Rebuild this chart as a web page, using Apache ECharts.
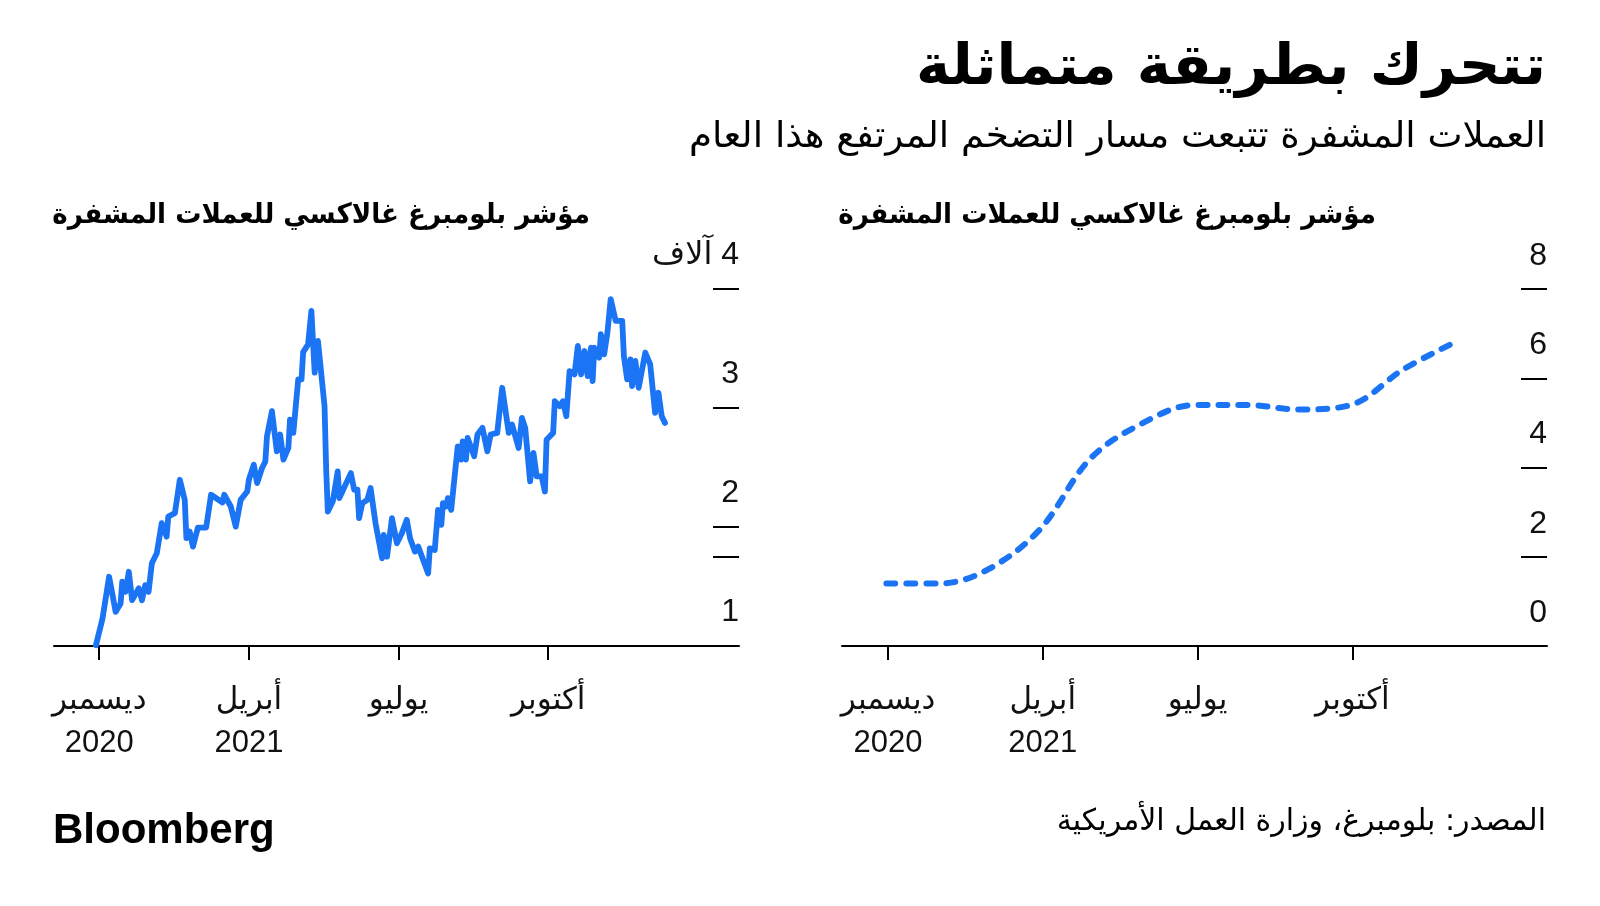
<!DOCTYPE html>
<html lang="ar">
<head>
<meta charset="utf-8">
<script src="https://cdn.jsdelivr.net/npm/echarts@6/dist/echarts.min.js"></script>
<style>
html,body{margin:0;padding:0;background:#fff;}
#chart{width:1600px;height:906px;}
</style>
</head>
<body>
<div id="chart" dir="rtl"></div>
<script>
// ---------- texts ----------
const titleText = 'تتحرك بطريقة متماثلة';
const subtitleText = 'العملات المشفرة تتبعت مسار التضخم المرتفع هذا العام';
const panelTitleLeft = 'مؤشر بلومبرغ غالاكسي للعملات المشفرة';
const panelTitleRight = 'مؤشر بلومبرغ غالاكسي للعملات المشفرة';
const sourceText = 'المصدر: بلومبرغ، وزارة العمل الأمريكية';
const logoText = 'Bloomberg';

// ---------- x axis (days since 1 Jan 2021) ----------
const xTickDays = [0, 91, 182, 273];
const xTickLabels = ['ديسمبر\n2020', 'أبريل\n2021', 'يوليو', 'أكتوبر'];

// ---------- Bloomberg Galaxy Crypto Index ----------
const galaxyDay = [
  -2, 2, 6, 10, 13, 14, 16, 18, 20, 24,
  26, 28, 30, 32, 35, 38, 41, 42, 46, 49,
  52, 53, 55, 57, 60, 65, 68, 75, 76, 80,
  83, 86, 90, 91, 94, 96, 99, 101, 102, 105,
  108, 110, 112, 115, 116, 118, 121, 123, 124, 127,
  129, 131, 133, 134, 137, 138, 139, 142, 145, 146,
  153, 155, 157, 158, 160, 163, 165, 168, 172, 173,
  175, 178, 181, 184, 187, 189, 192, 194, 200, 201,
  204, 206, 208, 209, 211, 212, 214, 218, 220, 221,
  223, 224, 228, 230, 233, 236, 238, 242, 245, 249,
  251, 255, 257, 259, 262, 264, 266, 269, 271, 272,
  276, 277, 280, 282, 284, 286, 289, 291, 293, 295,
  297, 299, 300, 301, 304, 305, 307, 309, 311, 314,
  318, 319, 321, 323, 324, 326, 328, 332, 335, 338,
  340, 342, 344
];
const galaxyValue = [
  1006, 1231, 1582, 1287, 1357, 1540, 1455, 1624, 1385, 1484,
  1385, 1512, 1455, 1695, 1779, 2032, 1919, 2088, 2116, 2397,
  2228, 1906, 1961, 1835, 1995, 1995, 2271, 2206, 2271, 2172,
  2003, 2228, 2298, 2397, 2524, 2369, 2496, 2551, 2762, 2973,
  2636, 2777, 2566, 2664, 2903, 2791, 3240, 3240, 3470, 3535,
  3816, 3297, 3563, 3563, 3015, 2481, 2130, 2214, 2467, 2243,
  2453, 2313, 2313, 2074, 2200, 2228, 2327, 2032, 1737, 1933,
  1750, 2074, 1863, 1948, 2060, 1906, 1793, 1835, 1610, 1821,
  1807, 2144, 2018, 2200, 2172, 2243, 2144, 2678, 2566, 2720,
  2566, 2749, 2594, 2777, 2833, 2636, 2777, 2791, 3170, 2791,
  2861, 2664, 2917, 2833, 2383, 2622, 2425, 2425, 2298, 2734,
  2791, 3057, 3015, 3057, 2931, 3310, 3282, 3521, 3282, 3479,
  3268, 3507, 3226, 3507, 3423, 3620, 3451, 3634, 3915, 3732,
  3732, 3437, 3240, 3409, 3184, 3395, 3170, 3465, 3367, 2959,
  3128, 2931, 2875
];
const galaxyTickValues = [1000, 1750, 2000, 3000, 4000];
const galaxyLabelValues = [1000, 2000, 3000, 4000];
const galaxyLabelText = {1000: '1', 2000: '2', 3000: '3', 4000: '4 آلاف'};

// ---------- US CPI, YoY % ----------
const cpiDates = ['2020-12-31', '2021-01-31', '2021-02-28', '2021-03-31', '2021-04-30', '2021-05-31',
                  '2021-06-30', '2021-07-31', '2021-08-31', '2021-09-30', '2021-10-31', '2021-11-30'];
const cpiValue = [1.4, 1.4, 1.7, 2.6, 4.2, 5.0, 5.4, 5.4, 5.3, 5.4, 6.2, 6.8];
const cpiTicks = [0, 2, 4, 6, 8];

// ---------- build ----------
const DAY0 = Date.UTC(2021, 0, 1);
function dayOf(s) { const p = s.split('-').map(Number); return (Date.UTC(p[0], p[1] - 1, p[2]) - DAY0) / 86400000; }

const BLUE = '#1b74f4';
const INK = '#111111';
const NUM_FONT = "'Liberation Sans', 'DejaVu Sans', sans-serif";
const AR = "'DejaVu Sans Condensed', 'DejaVu Sans', sans-serif";

function xAx(grid, min, max) {
  return {
    type: 'value', gridIndex: grid, min: min, max: max,
    splitLine: {show: false},
    axisLine: {show: true, onZero: false, lineStyle: {color: '#000', width: 2}},
    axisTick: {show: true, inside: false, length: 14, lineStyle: {color: '#000', width: 2}, customValues: xTickDays},
    axisLabel: {
      show: true, customValues: xTickDays, margin: 33, color: INK,
      fontFamily: NUM_FONT, fontSize: 31, lineHeight: 43, align: 'center', verticalAlign: 'top',
      formatter: function (v) { const i = xTickDays.indexOf(Math.round(v)); return i >= 0 ? xTickLabels[i] : ''; }
    }
  };
}
// lift = distance of label centre above its tick
function yAx(grid, min, max, ticks, labels, fmt, lift) {
  return {
    type: 'value', gridIndex: grid, position: 'right', offset: 0, min: min, max: max,
    splitLine: {show: false},
    axisLine: {show: false, onZero: false},
    axisTick: {show: true, inside: true, length: 26, lineStyle: {color: '#000', width: 2}, customValues: ticks},
    axisLabel: {
      show: true, inside: true, margin: 0, customValues: labels, color: INK,
      fontFamily: NUM_FONT, fontSize: 32, align: 'right', verticalAlign: 'bottom',
      lineHeight: lift * 2,
      formatter: fmt
    }
  };
}
const galaxyFmt = function (v) { return galaxyLabelText[Math.round(v)] || ''; };
const cpiFmt = function (v) { return String(Math.round(v)); };

function txt(text, x, y, align, font, scaleX) {
  return {
    type: 'text', x: x, y: y, scaleX: scaleX, scaleY: 1, silent: true,
    style: {text: text, x: 0, y: 0, align: align, verticalAlign: 'middle', font: font, fill: '#000'}
  };
}

const chart = echarts.init(document.getElementById('chart'), null, {renderer: 'canvas'});
chart.setOption({
  animation: false,
  backgroundColor: '#ffffff',
  graphic: [
    txt(titleText, 1546, 69, 'right', 'bold 56px ' + AR, 1.15),
    txt(subtitleText, 1546, 138, 'right', '36px ' + AR, 1.15),
    txt(panelTitleLeft, 590, 216, 'right', 'bold 28px ' + AR, 1.04),
    txt(panelTitleRight, 1376, 216, 'right', 'bold 28px ' + AR, 1.04),
    txt(sourceText, 1546, 822, 'right', '30px ' + AR, 1.11),
    txt(logoText, 53, 831, 'left', "bold 42px 'Liberation Sans', Arial, sans-serif", 1.0)
  ],
  grid: [
    {left: 54, right: 861, top: 289, bottom: 260, containLabel: false},
    {left: 842, right: 53, top: 289, bottom: 260, containLabel: false}
  ],
  xAxis: [xAx(0, -27.5, 389), xAx(1, -27.1, 387.5)],
  yAxis: [
    yAx(0, 1000, 4000, galaxyTickValues, galaxyLabelValues, galaxyFmt, 34),
    yAx(1, 0, 8, cpiTicks, cpiTicks, cpiFmt, 33)
  ],
  series: [
    {
      type: 'line', xAxisIndex: 0, yAxisIndex: 0, showSymbol: false, symbol: 'none',
      data: galaxyDay.map((d, i) => [d, galaxyValue[i]]),
      lineStyle: {color: BLUE, width: 5.8, join: 'round', cap: 'round'},
      z: 3
    },
    {
      type: 'line', xAxisIndex: 1, yAxisIndex: 1, showSymbol: false, symbol: 'none', smooth: 0.35,
      data: cpiDates.map((d, i) => [dayOf(d), cpiValue[i]]),
      lineStyle: {color: BLUE, width: 6, type: [9, 11], cap: 'round', join: 'round'},
      z: 3
    }
  ]
});
</script>
</body>
</html>
